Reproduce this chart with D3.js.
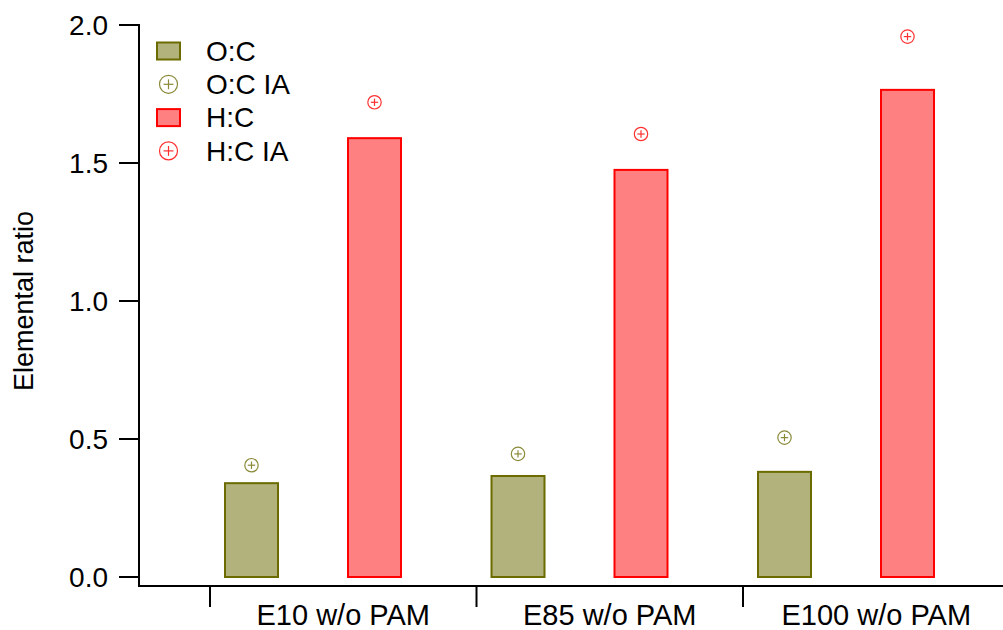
<!DOCTYPE html>
<html>
<head>
<meta charset="utf-8">
<script src="https://cdn.jsdelivr.net/npm/d3@7"></script>
<style>
  body { margin: 0; background: #fff; }
  text { font-family: "Liberation Sans", Arial, sans-serif; fill: #000; }
</style>
</head>
<body>
<svg id="chart" width="1003" height="630"></svg>
<script>
// data
var categories = ["E10 w/o PAM", "E85 w/o PAM", "E100 w/o PAM"];
var ocRatio = [0.34, 0.366, 0.381];
var hcRatio = [1.59, 1.475, 1.765];
var ocRatioIA = [0.405, 0.446, 0.505];
var hcRatioIA = [1.72, 1.605, 1.958];
var yTicks = [0, 0.5, 1.0, 1.5, 2.0];

var svg = d3.select("#chart");

var axisX0 = 139, axisY0 = 586;

var y = d3.scaleLinear()
    .domain([-0.0326, 2.0])
    .range([axisY0, 25]);

// one band per category, ticks sit on band edges
var x = d3.scaleBand()
    .domain(categories)
    .range([210, 1009.5])
    .padding(0);

// two bars inside each band (O:C, H:C)
var sub = d3.scaleBand()
    .domain(["oc", "hc"])
    .range([15, 191])
    .paddingInner(70 / 123)
    .paddingOuter(0);

var series = [
    {key: "oc", bars: ocRatio, ia: ocRatioIA, fill: "#b2b27d", stroke: "#6b6b00", mark: "#8a8a3a"},
    {key: "hc", bars: hcRatio, ia: hcRatioIA, fill: "#ff8080", stroke: "#ff0000", mark: "#ff3030"}
];

// bars
series.forEach(function (s) {
    svg.append("g")
        .selectAll("rect")
        .data(s.bars)
        .enter()
        .append("rect")
        .attr("x", function (d, i) { return x(categories[i]) + sub(s.key); })
        .attr("y", function (d) { return y(d); })
        .attr("width", sub.bandwidth())
        .attr("height", function (d) { return y(0) - y(d); })
        .attr("fill", s.fill)
        .attr("stroke", s.stroke)
        .attr("stroke-width", 2);
});

// circle-plus markers
function plusMarker(g, cx, cy, r, color) {
    g.append("circle")
        .attr("cx", cx).attr("cy", cy).attr("r", r)
        .attr("fill", "none").attr("stroke", color).attr("stroke-width", 1.2);
    g.append("line")
        .attr("x1", cx - r * 0.55).attr("x2", cx + r * 0.55)
        .attr("y1", cy).attr("y2", cy)
        .attr("stroke", color).attr("stroke-width", 1.2);
    g.append("line")
        .attr("x1", cx).attr("x2", cx)
        .attr("y1", cy - r * 0.55).attr("y2", cy + r * 0.55)
        .attr("stroke", color).attr("stroke-width", 1.2);
}

series.forEach(function (s) {
    var g = svg.append("g");
    s.ia.forEach(function (d, i) {
        plusMarker(g, x(categories[i]) + sub(s.key) + sub.bandwidth() / 2, y(d), 6.7, s.mark);
    });
});

// y axis
var yAxis = svg.append("g");
yAxis.append("line")
    .attr("x1", axisX0).attr("x2", axisX0)
    .attr("y1", y(2.0) - 1).attr("y2", axisY0 + 1)
    .attr("stroke", "#000").attr("stroke-width", 2);
yAxis.selectAll(".tick")
    .data(yTicks)
    .enter()
    .append("line")
    .attr("x1", axisX0 - 20).attr("x2", axisX0)
    .attr("y1", function (d) { return y(d); })
    .attr("y2", function (d) { return y(d); })
    .attr("stroke", "#000").attr("stroke-width", 2);
yAxis.selectAll(".lbl")
    .data(yTicks)
    .enter()
    .append("text")
    .attr("x", axisX0 - 31)
    .attr("y", function (d) { return y(d); })
    .attr("dy", "0.36em")
    .attr("text-anchor", "end")
    .style("font-size", "28px")
    .text(function (d) { return d3.format(".1f")(d); });

svg.append("text")
    .attr("transform", "translate(33," + y(1.0) + ") rotate(-90)")
    .attr("text-anchor", "middle")
    .style("font-size", "27px")
    .text("Elemental ratio");

// x axis
var xAxis = svg.append("g");
xAxis.append("line")
    .attr("x1", axisX0).attr("x2", 1003)
    .attr("y1", axisY0).attr("y2", axisY0)
    .attr("stroke", "#000").attr("stroke-width", 2);
xAxis.selectAll(".tick")
    .data(categories)
    .enter()
    .append("line")
    .attr("x1", function (d) { return x(d); })
    .attr("x2", function (d) { return x(d); })
    .attr("y1", axisY0).attr("y2", axisY0 + 21)
    .attr("stroke", "#000").attr("stroke-width", 2);
xAxis.selectAll(".lbl")
    .data(categories)
    .enter()
    .append("text")
    .attr("x", function (d) { return x(d) + x.bandwidth() / 2; })
    .attr("y", 625)
    .attr("text-anchor", "middle")
    .style("font-size", "29px")
    .text(function (d) { return d; });

// legend
var legendItems = [
    {label: "O:C", type: "bar", s: series[0]},
    {label: "O:C IA", type: "mark", s: series[0]},
    {label: "H:C", type: "bar", s: series[1]},
    {label: "H:C IA", type: "mark", s: series[1]}
];
var legend = svg.append("g");
legendItems.forEach(function (it, i) {
    var cy = 51 + i * 33.3;
    if (it.type === "bar") {
        legend.append("rect")
            .attr("x", 157).attr("y", cy - 8.5)
            .attr("width", 23).attr("height", 17)
            .attr("fill", it.s.fill).attr("stroke", it.s.stroke).attr("stroke-width", 2);
    } else {
        plusMarker(legend, 168.5, cy, 9, it.s.mark);
    }
    legend.append("text")
        .attr("x", 206).attr("y", cy)
        .attr("dy", "0.35em")
        .style("font-size", "28px")
        .text(it.label);
});
</script>
</body>
</html>
